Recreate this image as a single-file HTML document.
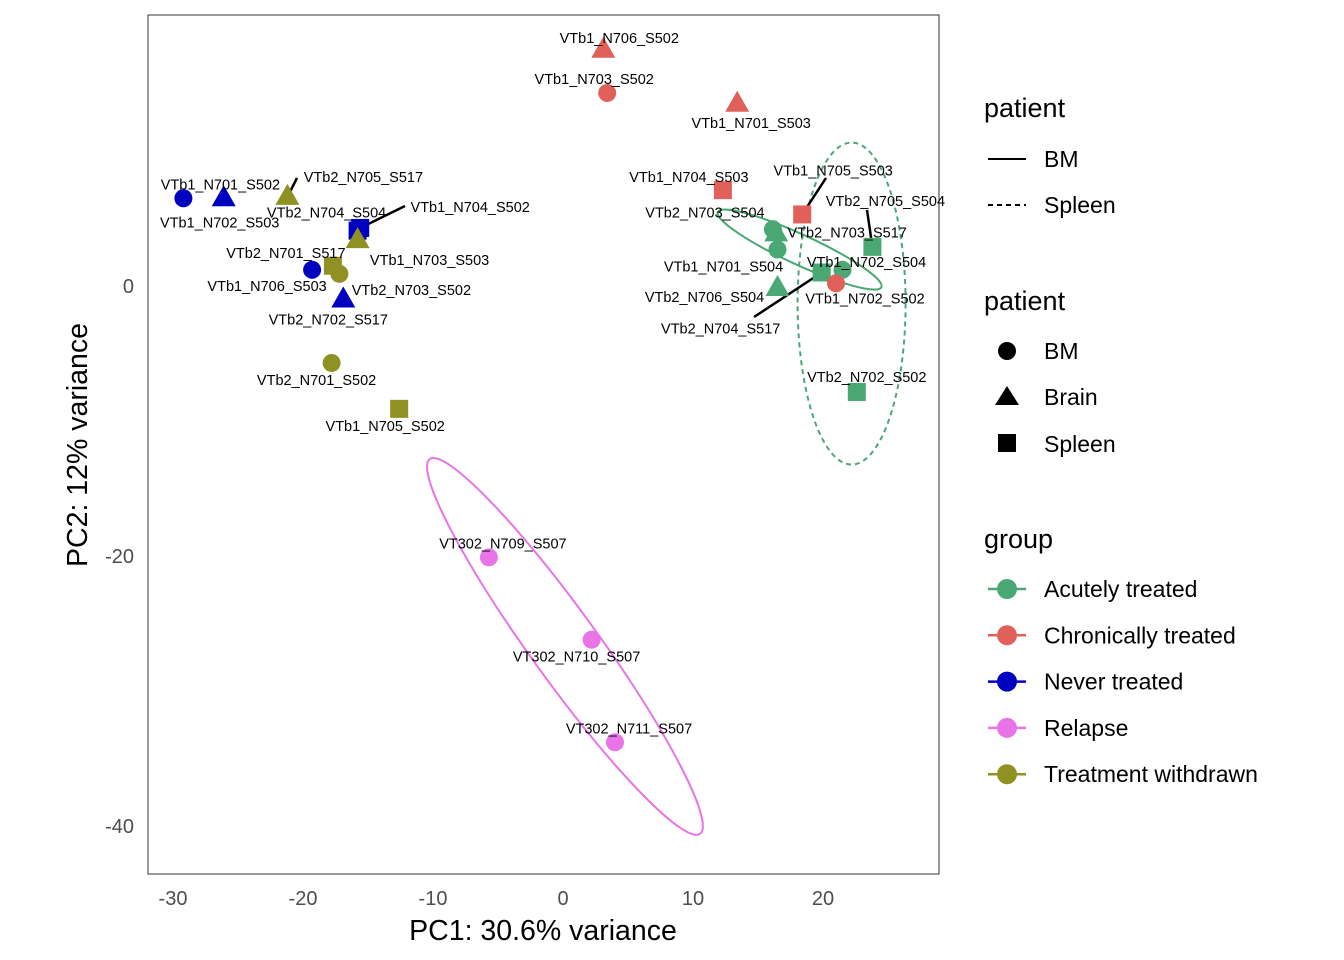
<!DOCTYPE html>
<html><head><meta charset="utf-8"><style>
html,body{margin:0;padding:0;background:#fff;}
svg{display:block;font-family:"Liberation Sans",Arial,sans-serif;}
</style></head><body>
<svg id="chart" width="1344" height="960" viewBox="0 0 1344 960">
<rect x="148" y="15" width="791" height="859" fill="none" stroke="#333" stroke-width="1"/>
<g id="ellipses"></g><g id="segs"></g><g id="pts"></g><g id="lbls"></g><g id="axes"></g>
<text x="543" y="940" font-size="28.5" text-anchor="middle" fill="#000">PC1: 30.6% variance</text>
<text transform="translate(87,445) rotate(-90)" font-size="28.5" text-anchor="middle" fill="#000">PC2: 12% variance</text>
<g id="legend" font-size="23" fill="#000">
<text x="984" y="117" font-size="27">patient</text>
<g><line x1="988" y1="159" x2="1026" y2="159" stroke="#000" stroke-width="2"/><text x="1044" y="167">BM</text></g>
<g><line x1="988" y1="205" x2="1026" y2="205" stroke="#000" stroke-width="2" stroke-dasharray="5,4"/><text x="1044" y="213">Spleen</text></g>
<text x="984" y="310" font-size="27">patient</text>
<g><circle cx="1007" cy="351" r="9"/><text x="1044" y="359">BM</text></g>
<g><polygon points="1007,386 1019,405 995,405"/><text x="1044" y="405">Brain</text></g>
<g><rect x="998" y="434" width="18" height="18"/><text x="1044" y="452">Spleen</text></g>
<text x="984" y="548" font-size="27">group</text>
</g>
</svg>
<script>
const NS="http://www.w3.org/2000/svg";
const xTicks=[-30,-20,-10,0,10,20];
const yTicks=[0,-20,-40];
const groups=["Acutely treated","Chronically treated","Never treated","Relapse","Treatment withdrawn"];
const colors=["#4aa874","#e0605a","#0000c0","#e874e8","#8f9123"];
const names=["VTb2_N703_S504","VTb2_N703_S517","VTb1_N701_S504","VTb2_N706_S504","VTb2_N704_S517","VTb1_N702_S504","VTb2_N705_S504","VTb2_N702_S502",
"VTb1_N706_S502","VTb1_N703_S502","VTb1_N701_S503","VTb1_N704_S503","VTb1_N705_S503","VTb1_N702_S502",
"VTb1_N701_S502","VTb1_N702_S503","VTb2_N704_S504","VTb1_N704_S502","VTb1_N706_S503","VTb2_N702_S517",
"VTb2_N705_S517","VTb1_N703_S503","VTb2_N701_S517","VTb2_N703_S502","VTb2_N701_S502","VTb1_N705_S502",
"VT302_N709_S507","VT302_N710_S507","VT302_N711_S507"];
const pc1=[16.15,16.4,16.5,16.5,19.9,21.5,23.8,22.6, 3.1,3.4,13.4,12.3,18.4,21.0, -29.2,-26.1,-15.8,-15.6,-19.3,-16.9, -21.2,-15.8,-17.7,-17.2,-17.8,-12.6, -5.7,2.2,4.0];
const pc2=[4.2,3.9,2.7,-0.15,1.0,1.2,2.9,-7.85, 17.5,14.3,13.5,7.1,5.3,0.2, 6.5,6.5,4.1,4.3,1.2,-1.0, 6.6,3.4,1.5,0.9,-5.7,-9.1, -20.1,-26.2,-33.8];
const grp=[0,0,0,0,0,0,0,0, 1,1,1,1,1,1, 2,2,2,2,2,2, 4,4,4,4,4,4, 3,3,3];
const shape=["c","t","c","t","s","c","s","s", "t","c","t","s","s","c", "c","t","s","s","c","t", "t","t","s","c","c","s", "c","c","c"];
const ldx=[-68,71,-54,-73,-101,24,13,10, 16,-13,14,-34,31,29, 37,-4,-31,110,-45,-15, 76,72,-47,72,-15,-14, 14,-15,14];
const ldy=[-17,-1,17,9,56,-8,-46,-15, -12,-14,19,-13,-44,15, -14,24,-18,-21,16,20, -20,20,-13,16,17,17, -14,17,-14];
const segs=[[4,754,317],[12,826,178],[6,867,210],[17,405,206],[20,297,178]];
const ell=[{cx:18.2,cy:2.7,a:90,b:15,ang:24.7,dash:false,c:0},{cx:22.2,cy:-1.3,a:54,b:161,ang:0,dash:true,c:0},{cx:0.15,cy:-26.7,a:231,b:34,ang:54.2,dash:false,c:3}];
const X=v=>563+13*v, Y=v=>286-13.5*v;
function el(t,a,p){const e=document.createElementNS(NS,t);for(const k in a)e.setAttribute(k,a[k]);(p||document.getElementById("chart")).appendChild(e);return e;}
const gA=document.getElementById("axes");
xTicks.forEach(t=>{const e=el("text",{x:X(t),y:905,"font-size":20,"text-anchor":"middle",fill:"#4d4d4d"},gA);e.textContent=t;

});
yTicks.forEach(t=>{const e=el("text",{x:134,y:Y(t)+7,"font-size":20,"text-anchor":"end",fill:"#4d4d4d"},gA);e.textContent=t;

});
const gE=document.getElementById("ellipses");
ell.forEach(o=>{const e=el("ellipse",{cx:0,cy:0,rx:o.a,ry:o.b,fill:"none",stroke:colors[o.c],"stroke-width":2,transform:`translate(${X(o.cx)},${Y(o.cy)}) rotate(${o.ang})`},gE);
if(o.dash)e.setAttribute("stroke-dasharray","5,4");

});
const gP=document.getElementById("pts"),gL=document.getElementById("lbls"),gS=document.getElementById("segs");
pc1.forEach((v,i)=>{const x=X(v),y=Y(pc2[i]),c=colors[grp[i]];let e;
if(shape[i]==="c")e=el("circle",{cx:x,cy:y,r:9,fill:c},gP);
else if(shape[i]==="t")e=el("polygon",{points:`${x},${y-13} ${x+12},${y+8} ${x-12},${y+8}`,fill:c},gP);
else e=el("rect",{x:x-9,y:y-9,width:18,height:18,fill:c},gP);


const t=el("text",{x:x+ldx[i],y:y+ldy[i]+5,"font-size":14.5,"text-anchor":"middle",fill:"#000"},gL);t.textContent=names[i];

});
segs.forEach(s=>{const i=s[0];const l=el("line",{x1:X(pc1[i]),y1:Y(pc2[i]),x2:s[1],y2:s[2],stroke:"#000","stroke-width":2.5},gS);

});
const gG=document.getElementById("legend");
groups.forEach((g,i)=>{const y=589+46.3*i;const gg=el("g",{},gG);


el("line",{x1:988,y1:y,x2:1026,y2:y,stroke:colors[i],"stroke-width":2.5},gg);
el("circle",{cx:1007,cy:y,r:10,fill:colors[i]},gg);
const t=el("text",{x:1044,y:y+8},gg);t.textContent=g;});
</script>
</body></html>
